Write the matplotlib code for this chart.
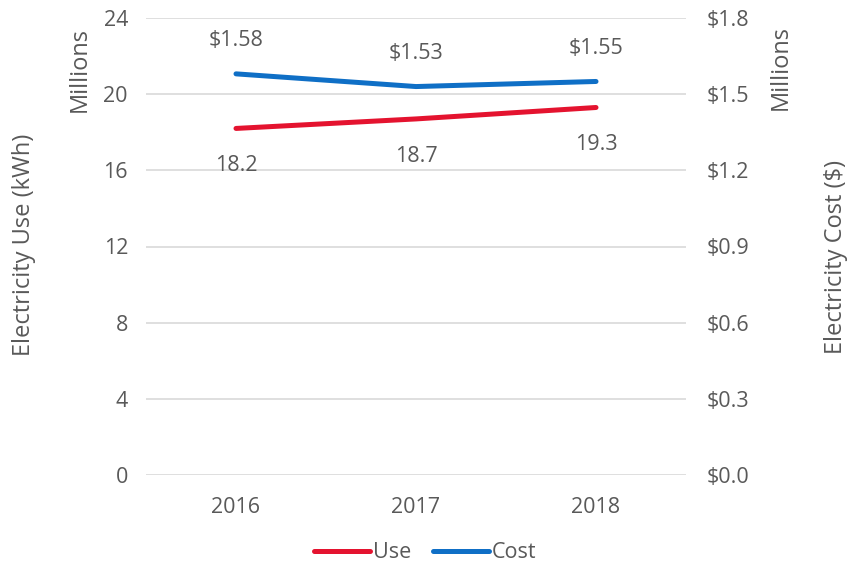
import matplotlib
matplotlib.use("Agg")
import matplotlib.pyplot as plt
from matplotlib.ticker import FuncFormatter

plt.rcParams["font.family"] = ["Open Sans", "DejaVu Sans"]

# ── data ─────────────────────────────────────────────────────────────────────
years = ["2016", "2017", "2018"]
use_mkwh = [18.2, 18.7, 19.3]        # millions kWh
cost_musd = [1.58, 1.53, 1.55]       # millions $

TEXT = "#595959"
GRID = "#D9D9D9"
RED = "#E4132F"
BLUE = "#0F6FC6"
FS = 15.5
FS_TITLE = 17

fig = plt.figure(figsize=(8.5, 5.71), dpi=100)
ax = fig.add_axes([146 / 850, 1 - 475 / 571, 540 / 850, 457 / 571])
ax2 = ax.twinx()

x = list(range(len(years)))
l1, = ax.plot(x, use_mkwh, color=RED, lw=3.6, solid_capstyle="round", label="Use")
l2, = ax2.plot(x, cost_musd, color=BLUE, lw=3.6, solid_capstyle="round", label="Cost")

ax.set_xlim(-0.5, len(years) - 0.5)
ax.set_ylim(0, 24)
ax.set_yticks(range(0, 25, 4))
ax2.set_ylim(0, 1.8)
ax2.set_yticks([0, 0.3, 0.6, 0.9, 1.2, 1.5, 1.8])
ax2.yaxis.set_major_formatter(FuncFormatter(lambda v, p: f"${v:.1f}"))
ax.set_xticks(x)
ax.set_xticklabels(years)

ax.grid(axis="y", color=GRID, lw=1.2)
ax.set_axisbelow(True)
for a in (ax, ax2):
    for s in a.spines.values():
        s.set_visible(False)
    a.tick_params(length=0, colors=TEXT, labelsize=FS)
ax.tick_params(axis="y", pad=13)
ax.tick_params(axis="x", pad=16)
ax2.tick_params(axis="y", pad=15)

# data labels
for xi, v in zip(x, use_mkwh):
    ax.annotate(f"{v:.1f}", (xi, v), xytext=(0, -27), textcoords="offset points",
                ha="center", va="center", color=TEXT, fontsize=FS)
for xi, v in zip(x, cost_musd):
    ax2.annotate(f"${v:.2f}", (xi, v), xytext=(0, 24), textcoords="offset points",
                 ha="center", va="center", color=TEXT, fontsize=FS)

# axis titles
fig.text(24 / 850, 1 - 245 / 571, "Electricity Use (kWh)", rotation=90,
         ha="center", va="center", color=TEXT, fontsize=FS_TITLE)
fig.text(80 / 850, 1 - 70 / 571, "Millions", rotation=90,
         ha="center", va="center", color=TEXT, fontsize=FS_TITLE)
fig.text(781 / 850, 1 - 68 / 571, "Millions", rotation=90,
         ha="center", va="center", color=TEXT, fontsize=FS_TITLE)
fig.text(836 / 850, 1 - 257 / 571, "Electricity Cost ($)", rotation=90,
         ha="center", va="center", color=TEXT, fontsize=FS_TITLE)

leg = fig.legend([l1, l2], ["Use", "Cost"], loc="center", bbox_to_anchor=(0.5, 1 - 553 / 571),
                 ncol=2, frameon=False, fontsize=FS, handlelength=2.6,
                 handletextpad=0.15, columnspacing=1.0)
for t in leg.get_texts():
    t.set_color(TEXT)

fig.savefig("out.png", dpi=100)
